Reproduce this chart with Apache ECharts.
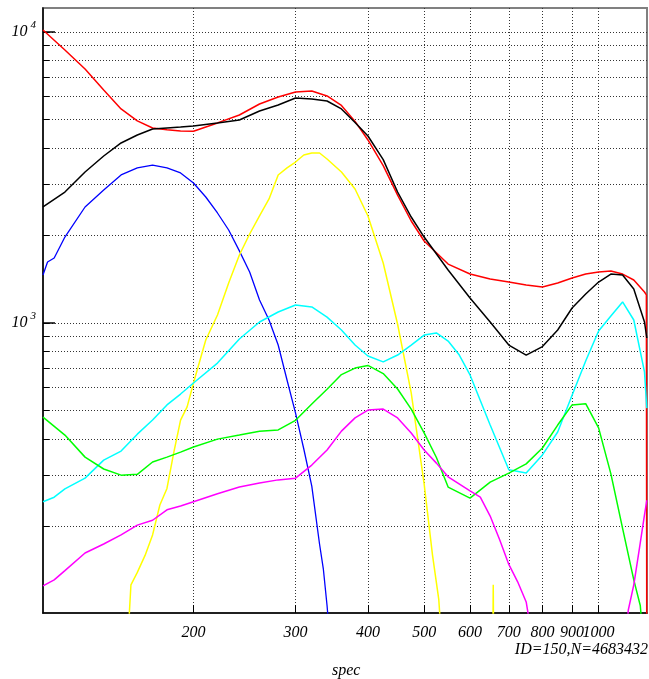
<!DOCTYPE html>
<html><head><meta charset="utf-8">
<script src="https://cdn.jsdelivr.net/npm/echarts@6/dist/echarts.min.js"></script>
<style>html,body{margin:0;padding:0;background:#fff}#c{width:649px;height:679px}</style>
</head><body><div id="c"></div>
<script>
// axis ranges (data units, log scales)
const xRange = [110, 1212];
const yRange = [100.8, 12090];
const xTicks = [200,300,400,500,600,700,800,900,1000];
const xLabelsA = [200,300,400,500,600,700,800,900];
const xLabelsB = [1000];
const yTicks = [200,300,400,500,600,700,800,900,1000,2000,3000,4000,5000,6000,7000,8000,9000,10000];
const yMajor = [1000, 10000];

const redX = [110,120,130,140,150,160,170,180,190,200,220,240,260,280,300,320,340,360,380,400,425,450,475,500,550,600,650,700,750,800,850,900,950,1000,1050,1100,1150,1200,1209,1211];
const redY = [10160,8670,7460,6320,5440,4950,4680,4610,4570,4560,4870,5185,5655,5980,6220,6270,6030,5590,4930,4255,3475,2750,2241,1913,1594,1473,1416,1383,1351,1330,1373,1428,1473,1497,1509,1473,1405,1278,1250,60];

const blackX = [110,120,130,140,150,160,170,180,190,200,220,240,260,280,300,320,340,360,380,400,425,450,475,500,550,600,650,700,750,800,850,900,950,1000,1050,1100,1150,1200,1211];
const blackY = [2504,2819,3303,3749,4156,4426,4642,4680,4716,4755,4870,4984,5352,5612,5930,5880,5793,5440,4884,4392,3643,2819,2313,1974,1521,1219,1008,840,776,830,946,1126,1258,1383,1473,1462,1308,1008,888];

const blueX = [110,112,115,120,130,140,150,160,170,180,190,200,210,220,230,240,250,260,270,280,290,300,310,320,330,335,340,346];
const blueY = [1462,1620,1672,1974,2504,2864,3226,3410,3490,3410,3278,3027,2710,2388,2087,1769,1497,1200,1024,840,637,490,369,275,174,143,107,70];

const yellowX = [154,156,160,165,170,175,180,185,190,195,200,210,220,230,240,250,260,270,280,290,300,310,320,330,340,360,380,400,425,450,475,500,517,530,536,650,657,658,659];
const yellowY = [80,126,139,159,187,237,270,360,464,515,622,874,1065,1373,1713,2022,2332,2668,3226,3410,3574,3778,3838,3838,3660,3303,2887,2332,1608,990,575,280,159,112,80,null,80,126,80];

const cyanX = [110,115,120,130,140,150,160,170,180,190,200,220,240,260,280,300,320,340,360,380,400,425,450,475,500,525,550,575,600,650,700,750,800,850,900,950,1000,1050,1100,1150,1200,1211];
const cyanY = [243,252,269,293,338,363,415,464,523,570,622,728,881,1008,1091,1153,1135,1048,946,840,770,735,776,840,909,924,867,776,663,446,313,305,352,422,565,740,939,1057,1181,1024,679,510];

const greenX = [110,120,130,140,150,160,170,180,190,200,220,240,260,280,300,320,340,360,380,400,425,450,475,500,525,550,600,650,700,750,800,850,900,950,1000,1050,1100,1150,1180,1195];
const greenY = [475,412,346,315,300,302,333,346,360,375,399,412,425,429,463,527,592,665,700,715,670,593,506,419,345,273,250,284,305,328,372,446,523,528,436,303,197,131,107,80];

const magX = [110,115,120,130,140,150,160,170,180,190,200,220,240,260,280,300,320,340,360,380,400,425,450,475,500,525,550,600,625,650,675,700,725,750,770,1100,1115,1125,1150,1175,1200,1211];
const magY = [125,131,141,162,174,187,202,210,228,235,243,259,273,282,289,293,325,366,425,472,502,506,472,419,366,330,296,265,252,217,180,148,129,110,80,null,80,103,126,166,219,246];

const L = Math.log10;
function pts(xs, ys) { return xs.map((x, i) => ys[i] == null ? [L(x), '-'] : [L(x), L(ys[i])]); }
function mk(name, color, xs, ys, w) {
  return { name, type: 'line', data: pts(xs, ys), showSymbol: false, symbol: 'none',
    lineStyle: { color, width: w }, itemStyle: { color }, z: 3, clip: true, silent: true, connectNulls: false };
}
const FONT = 'Liberation Serif';
const grid = { color: '#333', type: [1, 2], width: 1 };
const xLabelStyle = { hideOverlap: false, interval: 0,
  formatter: v => String(Math.round(Math.pow(10, v))),
  fontFamily: FONT, fontStyle: 'italic', fontSize: 16, color: '#000', margin: 12 };

const chart = echarts.init(document.getElementById('c'), null, { renderer: 'canvas' });
chart.setOption({
  animation: false,
  backgroundColor: '#fff',
  grid: { left: 43, top: 8, width: 604, height: 605, show: true, borderColor: '#808080', borderWidth: 2 },
  xAxis: [{
    type: 'value', min: L(xRange[0]), max: L(xRange[1]),
    axisLine: { show: true, lineStyle: { color: '#000', width: 1.5 } },
    axisTick: { show: true, inside: true, length: 8, customValues: xTicks.map(L), lineStyle: { color: '#000' } },
    axisLabel: Object.assign({ customValues: xLabelsA.map(L) }, xLabelStyle),
    splitLine: { show: true, lineStyle: grid }
  }, {
    type: 'value', min: L(xRange[0]), max: L(xRange[1]), position: 'bottom',
    axisLine: { show: false }, axisTick: { show: false }, splitLine: { show: false },
    axisLabel: Object.assign({ customValues: xLabelsB.map(L) }, xLabelStyle)
  }],
  yAxis: [{
    type: 'value', min: L(yRange[0]), max: L(yRange[1]),
    axisLine: { show: true, lineStyle: { color: '#000', width: 1.5 } },
    axisTick: { show: true, inside: true, length: 6, customValues: yTicks.map(L), lineStyle: { color: '#000' } },
    axisLabel: { customValues: yMajor.map(L), margin: 7,
      formatter: v => '{b|10}{s|' + Math.round(v) + '}',
      rich: {
        b: { fontFamily: FONT, fontStyle: 'italic', fontSize: 16, color: '#000' },
        s: { fontFamily: FONT, fontStyle: 'italic', fontSize: 11, color: '#000', padding: [0, 0, 14, 3] }
      } },
    splitLine: { show: true, lineStyle: grid }
  }, {
    type: 'value', min: L(yRange[0]), max: L(yRange[1]), position: 'left',
    axisLine: { show: false },
    axisTick: { show: true, inside: true, length: 12, customValues: yMajor.map(L), lineStyle: { color: '#000', width: 1.5 } },
    axisLabel: { show: false }, splitLine: { show: false }
  }],
  series: [
    mk('red', '#ff0000', redX, redY, 1.5),
    mk('black', '#000000', blackX, blackY, 1.5),
    mk('blue', '#0000ff', blueX, blueY, 1.3),
    mk('yellow', '#ffff00', yellowX, yellowY, 1.5),
    mk('cyan', '#00ffff', cyanX, cyanY, 1.5),
    mk('green', '#00ff00', greenX, greenY, 1.5),
    mk('magenta', '#ff00ff', magX, magY, 1.5)
  ],
  graphic: [
    { type: 'text', right: 1, top: 642, style: { text: 'ID=150,N=4683432', font: 'italic 16px "Liberation Serif"', fill: '#000' } },
    { type: 'text', left: 332, top: 663, style: { text: 'spec', font: 'italic 16px "Liberation Serif"', fill: '#000' } }
  ]
});
</script></body></html>
